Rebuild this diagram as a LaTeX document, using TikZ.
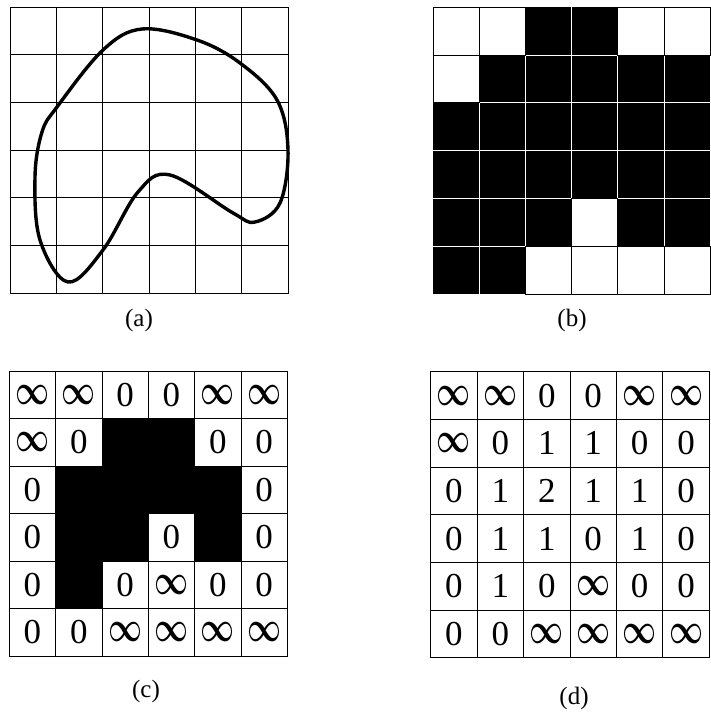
\documentclass[tikz,border=0pt]{standalone}
\usepackage{fontspec}
\setmainfont{Liberation Serif}
\usepackage{graphicx}
\usetikzlibrary{positioning}

\newcommand{\infsym}{\resizebox{34pt}{19pt}{\boldmath$\infty$}}

\begin{document}
\begin{tikzpicture}[x=1pt, y=-1pt,
    gridline/.style={line width=0.9pt},
    cellnum/.style={font=\fontsize{35}{36}\selectfont, inner sep=0pt},
    caption/.style={font=\fontsize{25}{28}\selectfont, inner sep=0pt},
]
    \useasboundingbox (0,0) rectangle (710,714);
    % (a) grid with the contour
    \draw[gridline] (10,7) rectangle (288,293.3);
    \foreach \i in {1,...,5} {
        \draw[gridline] ({10+\i*46.33},7) -- ({10+\i*46.33},293.3);
        \draw[gridline] (10,{7+\i*47.72}) -- (288,{7+\i*47.72});
    }
    \draw[line width=3.4pt] plot[smooth cycle, tension=0.6] coordinates {
        (142,29) (103,50) (57,107) (42,132) (35,177) (40,240) (68,282)
        (103,250) (138,192) (170,175) (233,213) (255,222) (280,203)
        (288,150) (277,100) (240,63) (197,40)};
    \node[caption] (capa) at (139,320) {(a)};
    % (b) binary image: black cells, white lines between them
    \foreach \r/\c in {0/2,0/3,1/1,1/2,1/3,1/4,1/5,2/0,2/1,2/2,2/3,2/4,2/5,
                       3/0,3/1,3/2,3/3,3/4,3/5,4/0,4/1,4/2,4/4,4/5,5/0,5/1}
        \fill ({433+\c*46.2},{7.3+\r*47.8}) rectangle +(46.2,47.8);
    \foreach \i in {1,...,5} {
        \draw[gridline, white] ({433+\i*46.2},7.3) -- ({433+\i*46.2},294.1);
        \draw[gridline, white] (433,{7.3+\i*47.8}) -- (710,{7.3+\i*47.8});
    }
    \foreach \r/\c in {0/0,0/1,0/4,0/5,1/0,4/3,5/2,5/3,5/4,5/5}
        \draw[gridline] ({433+\c*46.2},{7.3+\r*47.8}) rectangle +(46.2,47.8);
    \node[caption] (capb) at (572,320) {(b)};
    % (c) border values
    \draw[gridline] (9.3,371) rectangle (287.3,656);
    \foreach \i in {1,...,5} {
        \draw[gridline] ({9.3+\i*46.33},371) -- ({9.3+\i*46.33},656);
        \draw[gridline] (9.3,{371+\i*47.5}) -- (287.3,{371+\i*47.5});
    }
    \foreach \r/\c in {1/2,1/3,2/1,2/2,2/3,2/4,3/1,3/2,3/4,4/1}
        \fill ({9.3+\c*46.33},{371+\r*47.5}) rectangle +(46.33,47.5);
    \foreach \row [count=\r from 0] in {
        {0/\infsym,1/\infsym,2/0,3/0,4/\infsym,5/\infsym},
        {0/\infsym,1/0,4/0,5/0},
        {0/0,5/0},
        {0/0,3/0,5/0},
        {0/0,2/0,3/\infsym,4/0,5/0},
        {0/0,1/0,2/\infsym,3/\infsym,4/\infsym,5/\infsym}} {
        \foreach \c/\v in \row
            \node[cellnum] (cnum-\r-\c) at ({9.3+(\c+0.5)*46.33},{371+(\r+0.5)*47.5}) {\v};
    }
    \node[caption] (capc) at (146,691) {(c)};
    % (d) distance values
    \draw[gridline] (430.7,371.7) rectangle (709.3,657.7);
    \foreach \i in {1,...,5} {
        \draw[gridline] ({430.7+\i*46.43},371.7) -- ({430.7+\i*46.43},657.7);
        \draw[gridline] (430.7,{371.7+\i*47.67}) -- (709.3,{371.7+\i*47.67});
    }
    \foreach \row [count=\r from 0] in {
        {\infsym,\infsym,0,0,\infsym,\infsym},
        {\infsym,0,1,1,0,0},
        {0,1,2,1,1,0},
        {0,1,1,0,1,0},
        {0,1,0,\infsym,0,0},
        {0,0,\infsym,\infsym,\infsym,\infsym}} {
        \foreach \v [count=\c from 0] in \row
            \node[cellnum] (dnum-\r-\c) at ({430.7+(\c+0.5)*46.43},{371.7+(\r+0.5)*47.67}) {\v};
    }
    \node[caption] (capd) at (574,698) {(d)};
\end{tikzpicture}
\end{document}
